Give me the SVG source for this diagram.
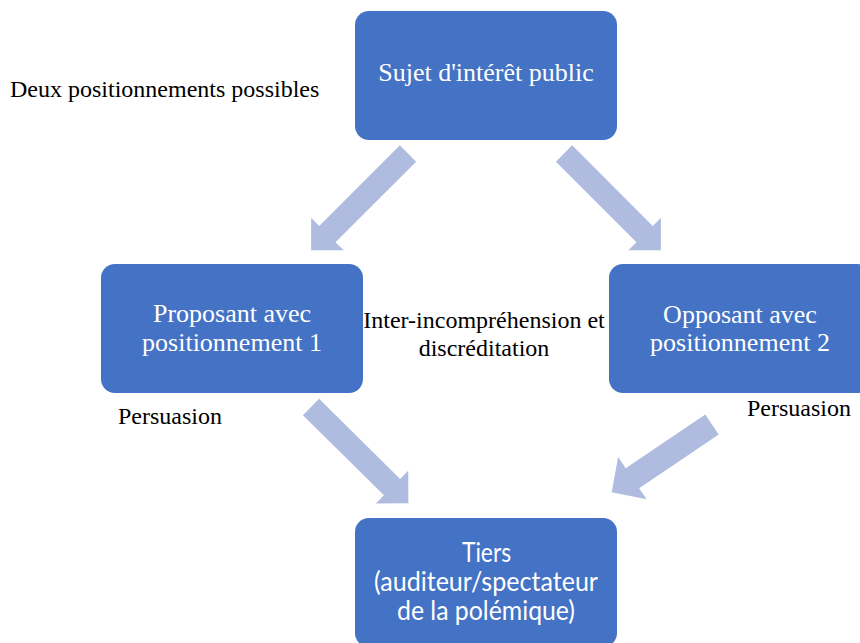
<svg xmlns="http://www.w3.org/2000/svg" width="860" height="643" viewBox="0 0 860 643">
  <style>
    .box { fill: #4472C4; }
    .arrow { fill: #AFBCE0; }
    .serif { font-family: "Liberation Serif", "Times New Roman", serif; }
    .sans { font-family: Lato, "Liberation Sans", sans-serif; }
    .in { fill: #FFFFFF; text-anchor: middle; font-size: 26px; }
    .note { fill: #000000; font-size: 24px; }
  </style>
  <defs>
    <!-- block arrow pointing along +x, back edge centred on the origin -->
    <polygon id="blockArrow137" class="arrow" points="0,-11.5 114,-11.5 114,-23 137,0 114,23 114,11.5 0,11.5"/>
    <polygon id="blockArrow121" class="arrow" points="0,-12 96,-12 96,-25.5 121,0 96,25.5 96,12 0,12"/>
  </defs>

  <rect width="860" height="643" fill="#FFFFFF"/>

  <!-- free annotation -->
  <text class="serif note" font-family="'Liberation Serif', 'Times New Roman', serif" x="10" y="97">Deux positionnements possibles</text>

  <!-- connectors -->
  <g id="connectors">
    <use href="#blockArrow137" transform="translate(408,153.5) rotate(135)"/>
    <use href="#blockArrow137" transform="translate(564,153.5) rotate(45)"/>
    <use href="#blockArrow137" transform="translate(311,407) rotate(44.7)"/>
    <use href="#blockArrow121" transform="translate(712,424.5) rotate(146)"/>
  </g>

  <g id="sujet">
    <rect class="box" x="355" y="11" width="262" height="129" rx="14"/>
    <text class="serif in" font-family="'Liberation Serif', 'Times New Roman', serif" x="486" y="81">Sujet d'intérêt public</text>
  </g>

  <g id="proposant">
    <rect class="box" x="101" y="264" width="262" height="129" rx="14"/>
    <text class="serif in" font-family="'Liberation Serif', 'Times New Roman', serif" x="232" y="322">Proposant avec</text>
    <text class="serif in" font-family="'Liberation Serif', 'Times New Roman', serif" x="232" y="351">positionnement 1</text>
  </g>

  <g id="opposant">
    <rect class="box" x="609" y="264" width="262" height="129" rx="14"/>
    <text class="serif in" font-family="'Liberation Serif', 'Times New Roman', serif" x="740" y="323">Opposant avec</text>
    <text class="serif in" font-family="'Liberation Serif', 'Times New Roman', serif" x="740" y="351">positionnement 2</text>
  </g>

  <g id="tiers">
    <rect class="box" x="355" y="518" width="262" height="129" rx="14"/>
    <text class="sans in" x="486.5" y="562" font-size="24" textLength="49" lengthAdjust="spacingAndGlyphs">Tiers</text>
    <text class="sans in" x="486" y="591" font-size="24" textLength="224" lengthAdjust="spacingAndGlyphs">(auditeur/spectateur</text>
    <text class="sans in" x="486" y="620" font-size="24" textLength="178" lengthAdjust="spacingAndGlyphs">de la polémique)</text>
  </g>

  <g id="labels" font-family="'Liberation Serif', 'Times New Roman', serif">
    <text class="serif note" x="484" y="328" text-anchor="middle">Inter-incompréhension et</text>
    <text class="serif note" x="484" y="356" text-anchor="middle">discréditation</text>
    <text class="serif note" x="118" y="424">Persuasion</text>
    <text class="serif note" x="747" y="416">Persuasion</text>
  </g>
</svg>
